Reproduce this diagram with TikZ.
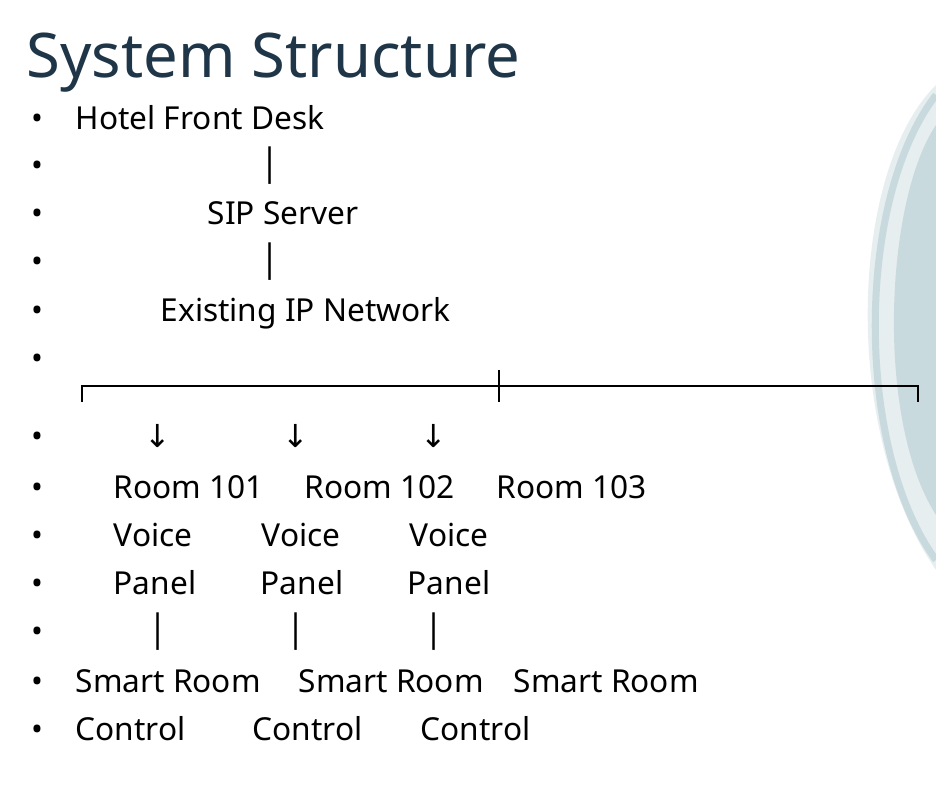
\documentclass[tikz,border=0pt]{standalone}
\usepackage{fontspec}
\setmainfont{Noto Sans}
\newfontfamily\symfont{DejaVu Sans}
\definecolor{titleblue}{HTML}{1F3548}
\definecolor{decoA}{HTML}{E6EEF0}
\definecolor{decoB}{HTML}{C9DADF}
\begin{document}
\begin{tikzpicture}[x=0.01cm,y=-0.01cm]
\tikzstyle{body}=[anchor=base west, inner sep=0pt, font=\fontsize{9}{10}\selectfont]
\tikzstyle{sym}=[anchor=base, inner sep=0pt, font=\symfont\fontsize{9}{10}\selectfont]
\tikzstyle{dot}=[anchor=base, inner sep=0pt, font=\fontsize{9}{10}\selectfont]
\useasboundingbox (0,0) rectangle (936,786);
\fill[white] (0,0) rectangle (936,786);
% right decoration
\fill[decoA] (936,85) .. controls (850,170) and (840,430) .. (936,570) -- cycle;
\fill[decoB] (936,125) .. controls (885,200) and (875,420) .. (936,515) -- cycle;
\draw[decoB, line width=2pt] (936,95) .. controls (855,200) and (855,450) .. (936,560);
% title
\node (title) [anchor=base west, inner sep=0pt, text=titleblue, font=\fontsize{17.5}{20}\selectfont] at (26,78) {System Structure};
% bullets
\foreach \y in {130,177,225,273,322,370,448,499,547,595,643,693,741}
  \node[dot] at (37,\y) {•};
% lines of text
\node (desk) [body] at (75,130) {Hotel Front Desk};
\node (bar1) [sym] at (270,177) {│};
\node (sip) [body] at (207,225) {SIP Server};
\node (bar2) [sym] at (270,273) {│};
\node (net) [body] at (160,322) {Existing IP Network};
% bracket
\coordinate (bl) at (82,402);
\coordinate (br) at (918,402);
\coordinate (bm) at (499,370);
\draw[line width=0.6pt] (bl) -- (82,386) -- (918,386) -- (br);
\draw[line width=0.6pt] (bm) -- (499,402);
\foreach \x/\n in {158/a,296/b,434/c}{
  \node (arr\n) [sym] at (\x,448) {↓};
  \node (bar\n) [sym] at (\x,643) {│};
}
\node (r101) [body] at (113,499) {Room 101};
\node (r102) [body] at (304,499) {Room 102};
\node (r103) [body] at (496,499) {Room 103};
\node (va) [body] at (113,547) {Voice};
\node (vb) [body] at (261,547) {Voice};
\node (vc) [body] at (409,547) {Voice};
\node (pa) [body] at (113,595) {Panel};
\node (pb) [body] at (260,595) {Panel};
\node (pc) [body] at (407,595) {Panel};
\node (sa) [body] at (75,693) {Smart Room};
\node (sb) [body] at (298,693) {Smart Room};
\node (sc) [body] at (513,693) {Smart Room};
\node (ca) [body] at (75,741) {Control};
\node (cb) [body] at (252,741) {Control};
\node (cc) [body] at (420,741) {Control};
\end{tikzpicture}
\end{document}
